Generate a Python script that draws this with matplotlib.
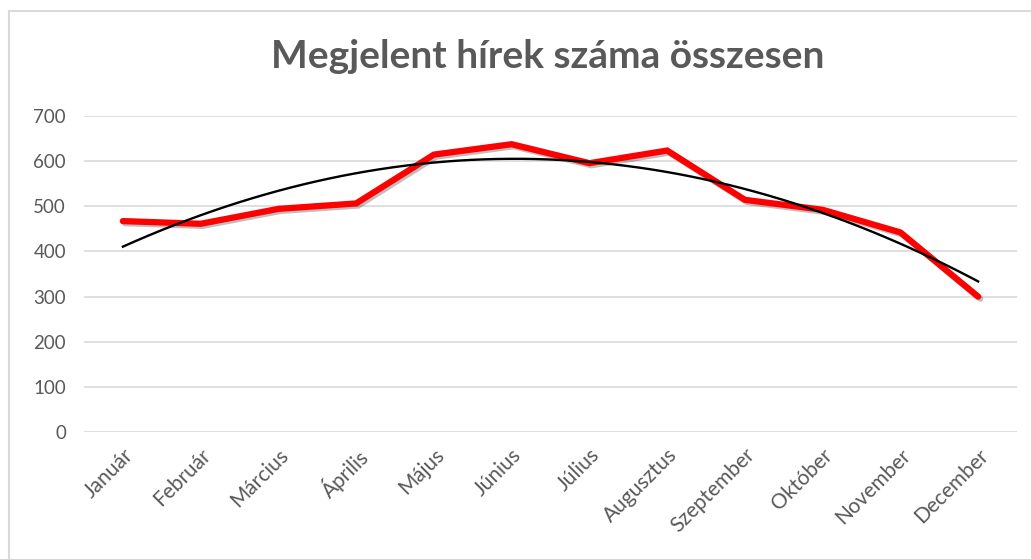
import numpy as np
import matplotlib
matplotlib.use("Agg")
import matplotlib.pyplot as plt
import matplotlib.patheffects as pe
from matplotlib.lines import Line2D

months = ["Január", "Február", "Március", "Április", "Május", "Június",
          "Július", "Augusztus", "Szeptember", "Október", "November", "December"]
hirek = [467, 461, 494, 506, 614, 637, 595, 623, 514, 492, 442, 300]
yticks = [0, 100, 200, 300, 400, 500, 600, 700]
title = "Megjelent hírek száma összesen"

TXT = "#595959"
GRID = "#d9d9d9"
plt.rcParams['font.family'] = ['Lato', 'DejaVu Sans']

fig = plt.figure(figsize=(10.31, 5.59), dpi=100)
ax = fig.add_axes([84/1031, 1-432.3/559, (1017-84)/1031, (432.3-115.7)/559])

x = np.arange(len(months))
ax.plot(x, hirek, color="#ff0000", lw=4.5, solid_joinstyle="miter", solid_capstyle="round",
        path_effects=[pe.SimpleLineShadow(offset=(1.5, -1.5), alpha=0.25, shadow_color="black"),
                      pe.Normal()], zorder=3)

# second-order polynomial trendline computed from the data
coef = np.polyfit(x, hirek, 2)
xs = np.linspace(0, len(months) - 1, 200)
ax.plot(xs, np.polyval(coef, xs), color="black", lw=1.7, zorder=4)

ax.set_xlim(-0.5, len(months) - 0.5)
ax.set_ylim(0, 700)
ax.set_yticks(yticks)
ax.set_yticklabels([str(v) for v in yticks], color=TXT, fontsize=13.5)
ax.set_xticks(x)
ax.set_xticklabels(months, rotation=45, ha="right", rotation_mode="anchor",
                   color=TXT, fontsize=15)
ax.tick_params(axis="both", length=0)
ax.tick_params(axis="y", pad=13)
ax.tick_params(axis="x", pad=9)
for s in ax.spines.values():
    s.set_visible(False)
for v in yticks[1:]:
    ax.axhline(v, color=GRID, lw=1.2, zorder=1)
ax.axhline(0, color=GRID, lw=2, zorder=1)

fig.text(0.531, 1-57/559, title, ha="center", va="center", fontsize=28,
         fontweight="bold", color=TXT)

# chart border (left and top visible)
fig.add_artist(Line2D([8.5/1031, 8.5/1031], [0, 1-10.5/559], transform=fig.transFigure,
                      color=GRID, lw=1.5))
fig.add_artist(Line2D([8.5/1031, 1], [1-10.5/559, 1-10.5/559], transform=fig.transFigure,
                      color=GRID, lw=1.5))

fig.savefig("out.png", dpi=100, facecolor="white")
